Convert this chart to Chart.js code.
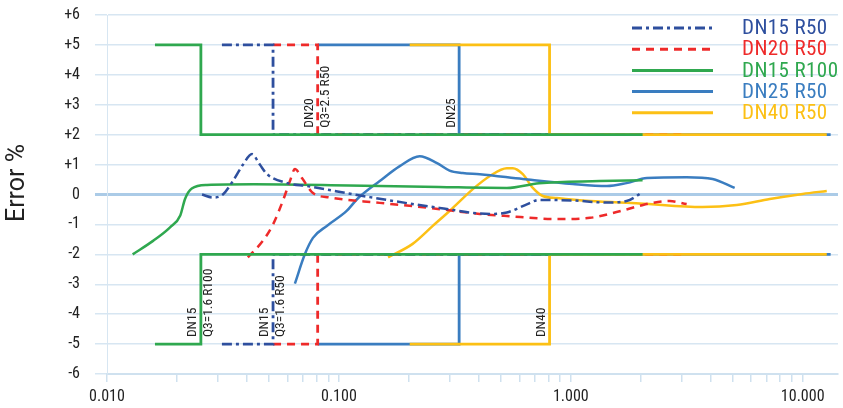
<!DOCTYPE html>
<html>
<head>
<meta charset="utf-8">
<script src="https://cdn.jsdelivr.net/npm/chart.js@4.4.1/dist/chart.umd.min.js"></script>
<style>
  body { margin: 0; background: #fff; }
  #wrap { width: 843px; height: 408px; }
</style>
</head>
<body>
<div id="wrap"><canvas id="myChart"></canvas></div>
<script>
// Flow meter error curves (log flow axis)
const FONT = "'Liberation Sans Narrow', 'Roboto Condensed', Roboto, sans-serif";

const seriesNames = ['DN15 R50', 'DN20 R50', 'DN15 R100', 'DN25 R50', 'DN40 R50'];
const seriesColors = ['#2e4f9e', '#ee2a2a', '#2fa84f', '#3a7dc0', '#fcc015'];
const yTitle = 'Error %';

// limit lines: [start flow, step flow, end flow]
const dn15r50Steps = [0.0313, 0.052, 2.0];
const dn20r50Steps = [0.052, 0.081, 3.16];
const dn15r100Steps = [0.0161, 0.0254, 2.04];
const dn25r50Steps = [0.081, 0.33, 13.2];
const dn40r50Steps = [0.202, 0.81, 12.7];
const limitOuter = 5;
const limitInner = 2;

// measured error curves
const dn15r50Flow = [0.0257, 0.0286, 0.0316, 0.0349, 0.0386, 0.0422, 0.0456, 0.049, 0.06, 0.073, 0.127, 0.272, 0.45, 0.53, 0.65, 0.73, 1.02, 1.43, 1.74, 2.04];
const dn15r50Err = [0.0, -0.1, 0.0, 0.45, 1.0, 1.35, 1.0, 0.68, 0.38, 0.28, -0.05, -0.45, -0.65, -0.6, -0.32, -0.18, -0.2, -0.27, -0.22, 0.08];

const dn20r50Flow = [0.0405, 0.047, 0.052, 0.0574, 0.0615, 0.0646, 0.0693, 0.0773, 0.0915, 0.15, 0.247, 0.405, 0.53, 0.87, 1.21, 1.52, 1.98, 2.25, 2.67, 3.16];
const dn20r50Err = [-2.1, -1.55, -1.0, -0.2, 0.45, 0.85, 0.55, 0.05, -0.1, -0.28, -0.45, -0.65, -0.72, -0.82, -0.78, -0.62, -0.38, -0.28, -0.22, -0.32];

const dn15r100Flow = [0.0129, 0.0158, 0.0187, 0.0207, 0.0217, 0.0232, 0.027, 0.043, 0.11, 0.27, 0.53, 0.73, 1.33, 2.04];
const dn15r100Err = [-2.0, -1.55, -1.1, -0.7, -0.15, 0.2, 0.32, 0.34, 0.3, 0.25, 0.22, 0.38, 0.45, 0.48];

const dn25r50Flow = [0.0646, 0.0713, 0.0773, 0.0887, 0.108, 0.12, 0.15, 0.183, 0.223, 0.265, 0.3, 0.342, 0.405, 0.621, 1.02, 1.43, 1.74, 2.13, 3.16, 4.09, 5.09];
const dn25r50Err = [-2.98, -2.0, -1.45, -1.05, -0.55, -0.15, 0.45, 0.95, 1.28, 1.05, 0.8, 0.72, 0.68, 0.52, 0.35, 0.28, 0.38, 0.55, 0.58, 0.52, 0.22];

const dn40r50Flow = [0.163, 0.208, 0.254, 0.31, 0.378, 0.448, 0.53, 0.562, 0.621, 0.686, 0.757, 0.871, 1.21, 1.98, 3.7, 5.2, 7.21, 10.0, 12.7];
const dn40r50Err = [-2.1, -1.65, -1.05, -0.45, 0.18, 0.62, 0.88, 0.88, 0.68, 0.22, -0.05, -0.12, -0.22, -0.3, -0.42, -0.35, -0.15, 0.02, 0.12];

const yTicks = [-6, -5, -4, -3, -2, -1, 0, 1, 2, 3, 4, 5, 6];
const xMin = 0.01;
const xMax = 14.2;

// vertical notes at the limit steps
const notes = [
    { lines: ['DN15', 'Q3=1.6 R100'], x: dn15r100Steps[1], y: -limitOuter },
    { lines: ['DN15', 'Q3=1.6 R50'], x: dn15r50Steps[1], y: -limitOuter },
    { lines: ['DN20', 'Q3=2.5 R50'], x: dn20r50Steps[1], y: limitInner },
    { lines: ['DN25'], x: dn25r50Steps[1], y: limitInner },
    { lines: ['DN40'], x: dn40r50Steps[1], y: -limitOuter }
];

const dashes = [[10, 4, 3, 4], [8, 6], [], [], []];
const stepsList = [dn15r50Steps, dn20r50Steps, dn15r100Steps, dn25r50Steps, dn40r50Steps];
const flows = [dn15r50Flow, dn20r50Flow, dn15r100Flow, dn25r50Flow, dn40r50Flow];
const errs = [dn15r50Err, dn20r50Err, dn15r100Err, dn25r50Err, dn40r50Err];
const limitOrder = [3, 3, 1, 5, 2];

function limitLine(s, sign) {
    return [
        { x: s[0], y: sign * limitOuter },
        { x: s[1], y: sign * limitOuter },
        { x: s[1], y: sign * limitInner },
        { x: s[2], y: sign * limitInner }
    ];
}

const datasets = [];
seriesNames.forEach((name, i) => {
    datasets.push({
        label: name,
        data: flows[i].map((f, k) => ({ x: f, y: errs[i][k] })),
        borderColor: seriesColors[i],
        borderWidth: 2.5,
        borderDash: dashes[i],
        cubicInterpolationMode: 'monotone',
        pointRadius: 0,
        fill: false,
        order: 10 + i
    });
    [1, -1].forEach(sign => {
        datasets.push({
            label: name + ' limit',
            data: limitLine(stepsList[i], sign),
            borderColor: seriesColors[i],
            borderWidth: 2.8,
            borderDash: dashes[i],
            tension: 0,
            pointRadius: 0,
            fill: false,
            order: limitOrder[i]
        });
    });
});

const legendPlugin = {
    id: 'sideLegend',
    afterDatasetsDraw(chart) {
        const c = chart.ctx;
        c.save();
        seriesNames.forEach((name, i) => {
            const y = 28 + i * 21.2;
            c.strokeStyle = seriesColors[i];
            c.lineWidth = 3;
            c.setLineDash(dashes[i]);
            c.beginPath();
            c.moveTo(632, y);
            c.lineTo(713, y);
            c.stroke();
            c.setLineDash([]);
            c.fillStyle = seriesColors[i];
            c.font = '21px ' + FONT;
            c.letterSpacing = '0.4px';
            c.textBaseline = 'middle';
            c.textAlign = 'left';
            c.fillText(name, 742, y + 1);
        });
        c.restore();
    }
};

const notesPlugin = {
    id: 'stepNotes',
    afterDatasetsDraw(chart) {
        const c = chart.ctx;
        const xs = chart.scales.x, ys = chart.scales.y;
        c.save();
        c.fillStyle = '#222';
        c.font = '13.5px ' + FONT;
        c.textBaseline = 'middle';
        c.textAlign = 'left';
        notes.forEach(n => {
            const px = xs.getPixelForValue(n.x);
            const py = ys.getPixelForValue(n.y) - 7;
            n.lines.forEach((t, k) => {
                c.save();
                c.translate(px - 8 + k * 16, py);
                c.rotate(-Math.PI / 2);
                c.fillText(t, 0, 0);
                c.restore();
            });
        });
        // axis title
        c.save();
        c.translate(18, 183);
        c.rotate(-Math.PI / 2);
        c.font = '25px Roboto, sans-serif';
        c.textAlign = 'center';
        c.textBaseline = 'middle';
        c.fillText(yTitle, 0, 0);
        c.restore();
        c.restore();
    }
};

const ctx = document.getElementById('myChart').getContext('2d');
const myChart = new Chart(ctx, {
    type: 'line',
    data: { datasets: datasets },
    plugins: [legendPlugin, notesPlugin],
    options: {
        responsive: true,
        maintainAspectRatio: false,
        animation: false,
        layout: { padding: { top: 15, right: 5, left: 0, bottom: 0 } },
        plugins: { legend: { display: false }, tooltip: { enabled: false } },
        scales: {
            x: {
                type: 'logarithmic',
                min: xMin,
                max: xMax,
                afterBuildTicks(scale) {
                    const t = [];
                    for (let e = -2; e <= 1; e++) {
                        for (let m = 1; m <= 9; m++) {
                            const v = m * Math.pow(10, e);
                            if (v >= xMin - 1e-9 && v <= xMax) t.push({ value: v });
                        }
                    }
                    scale.ticks = t;
                },
                afterFit(scale) { scale.height = 34; },
                ticks: {
                    autoSkip: false,
                    maxRotation: 0,
                    padding: 5,
                    color: '#222',
                    font: { family: FONT, size: 16 },
                    callback(value) {
                        const lg = Math.log10(value);
                        return Math.abs(lg - Math.round(lg)) < 1e-6 ? value.toFixed(3) : '';
                    }
                },
                grid: {
                    drawOnChartArea: false,
                    drawTicks: true,
                    tickLength: 8,
                    color: '#cfe1ef',
                    lineWidth: 1.5
                },
                border: { display: true, color: '#cfe1ef', width: 2 }
            },
            y: {
                min: -6,
                max: 6,
                afterBuildTicks(scale) { scale.ticks = yTicks.map(v => ({ value: v })); },
                afterFit(scale) {
                    scale.width = 107;
                    scale.paddingTop = 0;
                    scale.paddingBottom = 0;
                },
                ticks: {
                    padding: 15,
                    color: '#222',
                    font: { family: FONT, size: 16 },
                    callback(value) { return value > 0 ? '+' + value : String(value); }
                },
                grid: {
                    tickLength: 12,
                    color: ctx => ctx.tick && ctx.tick.value === 0 ? '#abcbe7' : '#d7e6f2',
                    lineWidth: ctx => ctx.tick && ctx.tick.value === 0 ? 3 : 1.5
                },
                border: { display: true, color: '#d7e6f2', width: 1 }
            }
        }
    }
});
</script>
</body>
</html>
